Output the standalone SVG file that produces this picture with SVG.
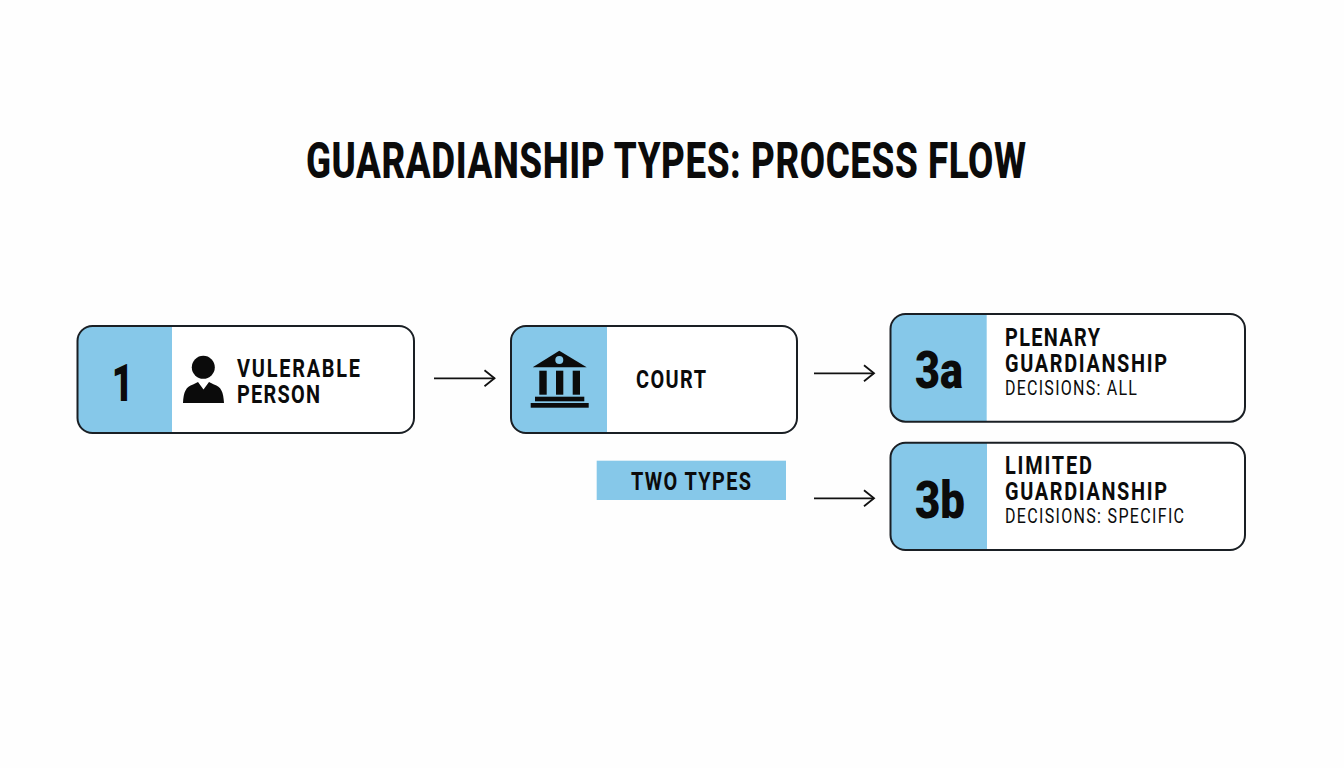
<svg xmlns="http://www.w3.org/2000/svg" width="1344" height="768" viewBox="0 0 1344 768">
<style>
text{font-family:"Roboto","Liberation Sans",sans-serif;fill:#0b0b0b}
.b{font-weight:800}
.t{font-size:25.500px;font-weight:700}
.s{font-size:20px;font-weight:400}
.n{font-size:52px;font-weight:900}
.box{fill:none;stroke:#1a1f24;stroke-width:2}
.card{fill:#fff}
.blue{fill:#86c8e9}
.ink{fill:#0b0b0b}
.conn{fill:none;stroke:#111;stroke-width:1.800;marker-end:url(#arr)}
</style>
<defs>
<marker id="arr" markerUnits="userSpaceOnUse" markerWidth="14" markerHeight="20" refX="12" refY="10" orient="auto">
<path d="M2 2L12 10L2 18" fill="none" stroke="#111" stroke-width="1.800"/>
</marker>
</defs>
<rect width="1344" height="768" fill="#fefefe"/>
<text id="title" class="b" transform="translate(306 177.500) scale(.75 1)" font-size="49" textLength="960">GUARADIANSHIP TYPES: PROCESS FLOW</text>
<g id="connectors">
<line class="conn" x1="434" y1="378.300" x2="494.500" y2="378.300"/>
<line class="conn" x1="814" y1="373.300" x2="874" y2="373.300"/>
<line class="conn" x1="814" y1="498.300" x2="874" y2="498.300"/>
</g>
<g id="node-1">
<rect class="card" x="77.500" y="326" width="336.500" height="107" rx="15"/>
<path class="blue" d="M172 326H92.500A15 15 0 0 0 77.500 341V418A15 15 0 0 0 92.500 433H172Z"/>
<rect class="box" x="77.500" y="326" width="336.500" height="107" rx="15"/>
<text class="n" transform="translate(122.500 401) scale(.72 1)" text-anchor="middle">1</text>
<circle class="ink" cx="203.300" cy="367.300" r="11.500"/>
<path class="ink" d="M183 403C183.500 392 186 386.500 193 384.500L198 382L203.500 389.500L209 382L214 384.500C221 386.500 223.500 392 224 403Z"/>
<text class="t" transform="translate(237 377) scale(.78 1)" textLength="157.700">VULERABLE</text>
<text class="t" transform="translate(237 403) scale(.78 1)" textLength="106.400">PERSON</text>
</g>
<g id="node-2">
<rect class="card" x="511" y="326" width="286" height="107" rx="15"/>
<path class="blue" d="M607 326H526A15 15 0 0 0 511 341V418A15 15 0 0 0 526 433H607Z"/>
<rect class="box" x="511" y="326" width="286" height="107" rx="15"/>
<path class="ink" d="M559.300 350.700L586.700 367.300H532.700Z"/>
<circle class="blue" cx="559.300" cy="360" r="4"/>
<rect class="ink" x="539.300" y="370.700" width="7.400" height="24"/>
<rect class="ink" x="556" y="370.700" width="7.300" height="24"/>
<rect class="ink" x="572.700" y="370.700" width="7.300" height="24"/>
<rect class="ink" x="535" y="396.700" width="49.300" height="4.600"/>
<rect class="ink" x="530.700" y="403" width="58" height="4.700"/>
<text class="t" transform="translate(636 388) scale(.78 1)" textLength="89.700">COURT</text>
</g>
<g id="label-two-types">
<rect class="blue" x="596.700" y="460.700" width="189.300" height="39.300"/>
<text class="t" transform="translate(631 490) scale(.78 1)" textLength="153.800">TWO TYPES</text>
</g>
<g id="node-3a">
<rect class="card" x="890.500" y="314" width="354.500" height="107.700" rx="15"/>
<path class="blue" d="M986.700 314H905.500A15 15 0 0 0 890.500 329V406.700A15 15 0 0 0 905.500 421.700H986.700Z"/>
<rect class="box" x="890.500" y="314" width="354.500" height="107.700" rx="15"/>
<text class="n" x="915" y="388" textLength="48" lengthAdjust="spacingAndGlyphs">3a</text>
<text class="t" transform="translate(1005 345.500) scale(.78 1)" textLength="121.800">PLENARY</text>
<text class="t" transform="translate(1005 371.500) scale(.78 1)" textLength="207.700">GUARDIANSHIP</text>
<text class="s" transform="translate(1005 394.500) scale(.8 1)" textLength="165">DECISIONS: ALL</text>
</g>
<g id="node-3b">
<rect class="card" x="890.500" y="442.700" width="354.500" height="107.300" rx="15"/>
<path class="blue" d="M987 442.700H905.500A15 15 0 0 0 890.500 457.700V535A15 15 0 0 0 905.500 550H987Z"/>
<rect class="box" x="890.500" y="442.700" width="354.500" height="107.300" rx="15"/>
<text class="n" x="915" y="517.500" textLength="50" lengthAdjust="spacingAndGlyphs">3b</text>
<text class="t" transform="translate(1005 474) scale(.78 1)" textLength="111.500">LIMITED</text>
<text class="t" transform="translate(1005 500) scale(.78 1)" textLength="207.700">GUARDIANSHIP</text>
<text class="s" transform="translate(1005 523) scale(.8 1)" textLength="223.750">DECISIONS: SPECIFIC</text>
</g>
</svg>
